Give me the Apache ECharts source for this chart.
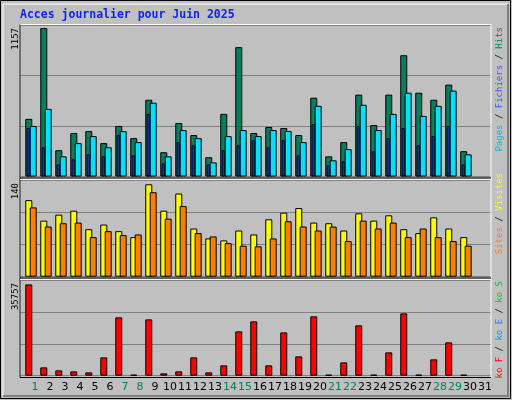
<!DOCTYPE html>
<html>
<head>
<meta charset="utf-8">
<script src="https://cdn.jsdelivr.net/npm/echarts@6/dist/echarts.min.js"></script>
<style>
  html, body { margin: 0; padding: 0; background: #c0c0c0; }
  #main { width: 512px; height: 400px; }
</style>
</head>
<body>
<div id="main"></div>
<script>
// daily values, June 2025 (day 31 has no data)
var days = [1,2,3,4,5,6,7,8,9,10,11,12,13,14,15,16,17,18,19,20,21,22,23,24,25,26,27,28,29,30];
var weekendDays = [1,7,8,14,15,21,22,28,29];
var hits   = [449,1157,205,339,354,260,394,299,598,189,417,323,150,488,1008,339,386,378,323,614,157,268,638,401,638,945,653,598,716,197];
var files  = [394,527,157,260,315,228,354,268,575,157,362,299,110,315,362,315,362,354,268,551,126,213,559,362,488,653,472,551,669,173];
var pages  = [378,228,94,134,173,157,323,165,488,102,268,244,94,205,244,283,228,283,165,409,87,118,394,197,299,378,244,315,394,94];
var visits = [116,85,94,100,72,79,69,60,140,100,126,73,58,55,70,64,87,97,104,82,81,70,96,85,93,72,66,90,73,60];
var sites  = [105,76,81,82,60,69,63,64,128,88,107,66,61,51,47,46,58,84,76,70,76,54,85,73,82,60,73,60,54,47];
var kb     = [35757,3263,2088,1697,1305,7178,22838,400,22055,914,1697,7178,1305,4046,17357,21272,4046,16965,7569,23229,400,5220,19706,400,9135,24404,400,6395,13050,400];

var maxHits = 1157, maxVisits = 140, maxKb = 35757;

function pts(vals, off) {
  return vals.map(function (v, i) { return [days[i] + off, v]; });
}

var xMin = 0.647, xMax = 32.05;
var grids = [
  {left: 20, right: 21, top: 25, height: 151.5},
  {left: 20, right: 21, top: 180.3, height: 96.4},
  {left: 20, right: 21, top: 280.3, height: 95.4}
];
var axisMax = [maxHits * 150 / 147, maxVisits * 96.4 / 92.4, maxKb * 95.4 / 91.3];

var yAxes = grids.map(function (g, i) {
  return {
    type: 'value', gridIndex: i, min: 0, max: axisMax[i], interval: axisMax[i] / 3,
    axisLine: {show: false}, axisTick: {show: false}, axisLabel: {show: false},
    splitLine: {lineStyle: {color: '#808080', width: 1}}
  };
});

// one x axis per series so bars are not shifted side by side
var xAxes = [];
function xAxisFor(gi, labels) {
  xAxes.push({
    type: 'value', gridIndex: gi, min: xMin, max: xMax, interval: 1,
    axisLine: {show: false}, axisTick: {show: false}, splitLine: {show: false},
    axisLabel: {
      show: !!labels, margin: 6, fontFamily: 'DejaVu Sans', fontSize: 11,
      formatter: function (v) {
        var d = Math.round(v - xMin);
        if (d < 1 || d > 31) return '';
        return weekendDays.indexOf(d) >= 0 ? '{we|' + d + '}' : '{wd|' + d + '}';
      },
      rich: {we: {color: '#008060', fontSize: 11}, wd: {color: '#000', fontSize: 11}}
    }
  });
  return xAxes.length - 1;
}

function bar(name, vals, off, w, color, gi, z, labels) {
  return {
    name: name, type: 'bar', xAxisIndex: xAxisFor(gi, labels), yAxisIndex: gi, data: pts(vals, off),
    barWidth: w, z: z, animation: false,
    itemStyle: {color: color, borderColor: '#000', borderWidth: 1}
  };
}

var series = [
  bar('Hits', hits, 0.233, 7, '#008060', 0, 2),
  bar('Pages', pages, 0.19, 3, '#2050ff', 0, 3),
  bar('Fichiers', files, 0.527, 7, '#00e0ff', 0, 4),
  bar('Visites', visits, 0.233, 7, '#ffff00', 1, 2),
  bar('Sites', sites, 0.527, 7, '#ff8000', 1, 3),
  bar('ko F', kb, 0.233, 7, '#ff0000', 2, 2, true)
];

function vtext(x, y, text, rich, align) {
  return {
    type: 'text', x: x, y: y, rotation: Math.PI / 2,
    style: {text: text, rich: rich || {}, align: align || 'right', verticalAlign: 'middle',
            font: '9px "DejaVu Sans Mono"', fill: '#000'}
  };
}

var chart = echarts.init(document.getElementById('main'));
chart.setOption({
  backgroundColor: '#c0c0c0',
  animation: false,
  grid: grids,
  xAxis: xAxes,
  yAxis: yAxes,
  series: series,
  graphic: [
    // window frame
    {type: 'rect', shape: {x: 0.5, y: 0.5, width: 510, height: 398}, style: {fill: 'none', stroke: '#000', lineWidth: 1}, z: 50},
    {type: 'polyline', shape: {points: [[3, 396], [3, 4], [508, 4]]}, style: {stroke: '#fff', lineWidth: 1, fill: 'none'}, z: 50},
    {type: 'polyline', shape: {points: [[508, 4], [508, 396], [3, 396]]}, style: {stroke: '#808080', lineWidth: 2, fill: 'none'}, z: 50},
    // plot frames
    {type: 'polyline', shape: {points: [[20, 377.5], [20, 24.5], [491, 24.5], [491, 377.5], [20, 377.5]]}, style: {stroke: '#fff', lineWidth: 1, fill: 'none'}, z: 40},
    {type: 'polyline', shape: {points: [[20, 24.5], [20, 377.5], [491, 377.5]]}, style: {stroke: '#000', lineWidth: 1, fill: 'none'}, z: 41},
    {type: 'line', shape: {x1: 20, y1: 178, x2: 491, y2: 178}, style: {stroke: '#000', lineWidth: 1}, z: 41},
    {type: 'line', shape: {x1: 20, y1: 179.5, x2: 491, y2: 179.5}, style: {stroke: '#fff', lineWidth: 1}, z: 41},
    {type: 'line', shape: {x1: 20, y1: 278, x2: 491, y2: 278}, style: {stroke: '#000', lineWidth: 1}, z: 41},
    {type: 'line', shape: {x1: 20, y1: 279.5, x2: 491, y2: 279.5}, style: {stroke: '#fff', lineWidth: 1}, z: 41},
    // title
    {type: 'text', x: 20, y: 15, style: {text: 'Acces journalier pour Juin 2025', font: 'bold 11.5px "DejaVu Sans Mono"', fill: '#1020ff', verticalAlign: 'middle'}},
    // max labels
    vtext(16, 28, String(maxHits)),
    vtext(16, 183, String(maxVisits)),
    vtext(16, 283, String(maxKb)),
    // legends
    vtext(500, 27, '{p|Pages} / {f|Fichiers} / {h|Hits}', {
      p: {fill: '#00c0e0', font: '9px "DejaVu Sans Mono"'},
      f: {fill: '#3060ff', font: '9px "DejaVu Sans Mono"'},
      h: {fill: '#008060', font: '9px "DejaVu Sans Mono"'}
    }),
    vtext(500, 173, '{s|Sites} / {v|Visites}', {
      s: {fill: '#ff8000', font: '9px "DejaVu Sans Mono"'},
      v: {fill: '#ffff00', font: '9px "DejaVu Sans Mono"'}
    }),
    vtext(500, 281, '{f|ko F} / {e|ko E} / {s|ko S}', {
      f: {fill: '#ff0000', font: '9px "DejaVu Sans Mono"'},
      e: {fill: '#2080ff', font: '9px "DejaVu Sans Mono"'},
      s: {fill: '#00c040', font: '9px "DejaVu Sans Mono"'}
    })
  ]
});
</script>
</body>
</html>
